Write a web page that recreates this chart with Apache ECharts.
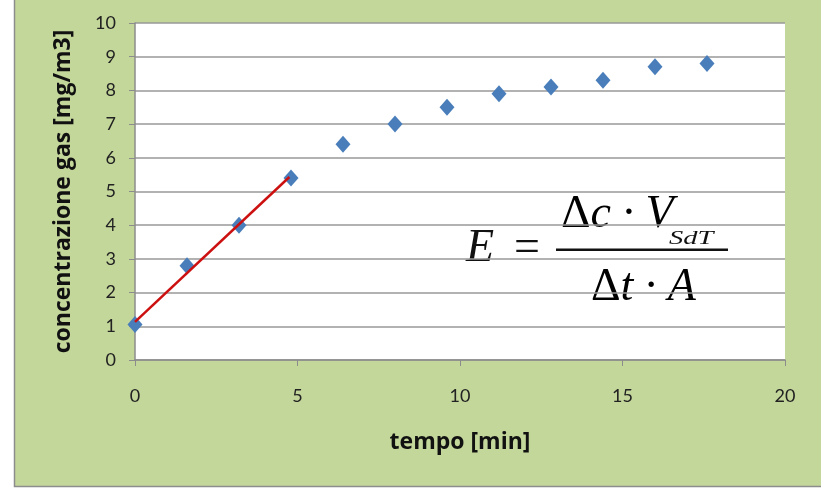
<!DOCTYPE html>
<html><head><meta charset="utf-8">
<script src="https://cdn.jsdelivr.net/npm/echarts@6/dist/echarts.min.js"></script>
<style>html,body{margin:0;padding:0;background:#fff}#c{width:821px;height:491px}</style>
</head><body><div id="c"></div>
<script>
var tempo = [0, 1.6, 3.2, 4.8, 6.4, 8.0, 9.6, 11.2, 12.8, 14.4, 16.0, 17.6];
var concentrazione = [1.05, 2.8, 4.0, 5.4, 6.4, 7.0, 7.5, 7.9, 8.1, 8.3, 8.7, 8.8];
var trendX = [0, 4.75];
var trendY = [1.13, 5.43];
var xTitle = 'tempo [min]';
var yTitle = 'concentrazione gas [mg/m3]';

var serif = '"Liberation Serif"';
var rich = {
  u: {fontFamily: serif, fontSize: 46, fontStyle: 'normal', color: '#111'},
  i: {fontFamily: serif, fontSize: 46, fontStyle: 'italic', color: '#111'}
};
var chart = echarts.init(document.getElementById('c'));
chart.setOption({
  animation: false,
  graphic: [
    {type:'rect', z:-10, shape:{x:14.5, y:-1, width:810, height:487.5}, style:{fill:'#c4d79b', stroke:'#8c8c8c', lineWidth:1.5}},
    {type:'text', left:466, top:226, style:{text:'E', font:'italic 46px "Liberation Serif"', fill:'#111'}},
    {type:'text', left:514, top:226, style:{text:'=', font:'46px "Liberation Serif"', fill:'#111'}},
    {type:'text', left:561, top:192, style:{text:'{u|Δ}{i|c · V}', rich:rich}},
    {type:'text', left:669, top:229, scaleX:1.5, style:{text:'SdT', font:'italic 19px "Liberation Serif"', fill:'#111'}},
    {type:'rect', shape:{x:556, y:248.5, width:172, height:2.5}, style:{fill:'#111'}},
    {type:'text', left:591, top:265, style:{text:'{u|Δ}{i|t · A}', rich:rich}}
  ],
  grid: {left:135, right:36, top:23, bottom:131, backgroundColor:'#fff', show:true, borderWidth:0},
  xAxis: {
    type:'value', min:0, max:20, interval:5,
    name: xTitle, nameLocation:'middle', nameGap:71,
    nameTextStyle:{fontFamily:'Open Sans', fontWeight:'bold', fontSize:23, color:'#111'},
    axisLine:{show:true, lineStyle:{color:'#8c8c8c', width:1.5}},
    axisTick:{show:true, length:6, lineStyle:{color:'#8c8c8c'}},
    axisLabel:{margin:27, fontFamily:'Lato', fontSize:18, color:'#222'},
    splitLine:{show:false}
  },
  yAxis: {
    type:'value', min:0, max:10, interval:1,
    name: yTitle, nameLocation:'middle', nameGap:60,
    nameTextStyle:{fontFamily:'Open Sans', fontWeight:'bold', fontSize:23, color:'#111'},
    axisLine:{show:true, lineStyle:{color:'#8c8c8c', width:1.5}},
    axisTick:{show:true, length:6, lineStyle:{color:'#8c8c8c'}},
    axisLabel:{margin:19, fontFamily:'Lato', fontSize:18, color:'#222'},
    splitLine:{show:true, lineStyle:{color:'#999999', width:1.5}}
  },
  series: [
    {type:'line', data: trendX.map(function(x,i){return [x, trendY[i]];}), symbol:'none',
     lineStyle:{color:'#cc1010', width:2.5}, z:3},
    {type:'scatter', data: tempo.map(function(x,i){return [x, concentrazione[i]];}),
     symbol:'diamond', symbolSize:[15,17], itemStyle:{color:'#4a7ebb', opacity:1}, z:2}
  ]
});
</script></body></html>
